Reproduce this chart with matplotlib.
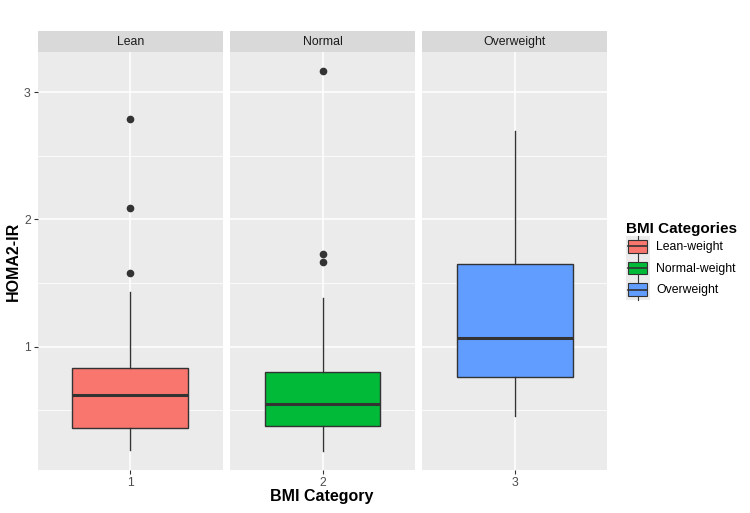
import matplotlib
matplotlib.use("Agg")
import matplotlib.pyplot as plt
from matplotlib.patches import Rectangle
from matplotlib.lines import Line2D
from matplotlib.legend_handler import HandlerBase

plt.rcParams["font.family"] = ["Liberation Sans", "DejaVu Sans"]

# values
panels = ["Lean", "Normal", "Overweight"]
xlabels = ["1", "2", "3"]
legend_labels = ["Lean-weight", "Normal-weight", "Overweight"]
colors = ["#F8766D", "#00BA38", "#619CFF"]

q1 = [0.357, 0.378, 0.764]
med = [0.622, 0.551, 1.071]
q3 = [0.835, 0.803, 1.649]
whis_lo = [0.187, 0.180, 0.457]
whis_hi = [1.433, 1.381, 2.698]
outliers = [[1.58, 2.094, 2.79], [1.665, 1.73, 3.165], []]

edge = "#333333"

all_vals = whis_lo + whis_hi + [v for o in outliers for v in o]
lo, hi = min(all_vals), max(all_vals)
pad = 0.05 * (hi - lo)

fig = plt.figure(figsize=(7.5, 5.13), dpi=100)
W, H = 750, 513
lefts = [37.7, 230, 422.3]
pw = 185
ptop, pbot = 52.3, 470
strip_top = 31

axes = []
for i in range(3):
    ax = fig.add_axes([lefts[i] / W, 1 - pbot / H, pw / W, (pbot - ptop) / H])
    ax.set_facecolor("#EBEBEB")
    for s in ax.spines.values():
        s.set_visible(False)
    ax.set_yticks([0.5, 1.5, 2.5], minor=True)
    ax.set_yticks([1, 2, 3])
    ax.grid(True, which="major", color="white", linewidth=1.1)
    ax.grid(True, which="minor", axis="y", color="white", linewidth=0.55)
    ax.set_axisbelow(True)
    stats = [{"med": med[i], "q1": q1[i], "q3": q3[i],
              "whislo": whis_lo[i], "whishi": whis_hi[i], "fliers": outliers[i]}]
    ax.bxp(stats, positions=[1], widths=0.75, patch_artist=True, showcaps=False,
           boxprops=dict(facecolor=colors[i], edgecolor=edge, linewidth=1.0),
           medianprops=dict(color=edge, linewidth=2.2),
           whiskerprops=dict(color=edge, linewidth=1.0),
           flierprops=dict(marker="o", markerfacecolor=edge, markeredgecolor=edge,
                           markersize=4.5))
    ax.set_xlim(0.4, 1.6)
    ax.set_ylim(lo - pad, hi + pad)
    ax.set_xticks([1])
    ax.set_xticklabels([xlabels[i]])
    ax.tick_params(axis="both", which="major", length=3, color=edge,
                   labelsize=8.8, labelcolor="#4D4D4D", pad=2)
    ax.tick_params(axis="y", which="minor", length=0)
    if i > 0:
        ax.tick_params(axis="y", length=0, labelleft=False)
    # facet strip
    sax = fig.add_axes([lefts[i] / W, 1 - ptop / H, pw / W, (ptop - strip_top) / H])
    sax.set_facecolor("#D9D9D9")
    sax.set_xticks([])
    sax.set_yticks([])
    for s in sax.spines.values():
        s.set_visible(False)
    sax.text(0.5, 0.5, panels[i], ha="center", va="center", fontsize=8.8,
             color="#1A1A1A", transform=sax.transAxes)
    axes.append(ax)

axes[0].set_ylabel("HOMA2-IR", fontsize=11.5, fontweight="bold", labelpad=2)
fig.text(322 / W, 1 - 501.5 / H, "BMI Category", ha="center", va="baseline",
         fontsize=11.5, fontweight="bold")


class BoxKey(HandlerBase):
    def create_artists(self, legend, orig, xd, yd, w, h, fs, trans):
        fc = orig.get_facecolor()
        bg = Rectangle((-xd, -yd), w, h, facecolor="#EBEBEB", edgecolor="none",
                       transform=trans)
        box = Rectangle((-xd + 0.1 * w, -yd + 0.2 * h), 0.8 * w, 0.6 * h,
                        facecolor=fc, edgecolor=edge, linewidth=0.8, transform=trans)
        mid = Line2D([-xd + 0.1 * w, -xd + 0.9 * w], [-yd + 0.5 * h] * 2,
                     color=edge, linewidth=1.2, transform=trans)
        wt = Line2D([-xd + 0.5 * w] * 2, [-yd + 0.8 * h, -yd + h],
                    color=edge, linewidth=0.8, transform=trans)
        wb = Line2D([-xd + 0.5 * w] * 2, [-yd, -yd + 0.2 * h],
                    color=edge, linewidth=0.8, transform=trans)
        return [bg, box, mid, wt, wb]


handles = [Rectangle((0, 0), 1, 1, facecolor=c) for c in colors]
leg = fig.legend(handles, legend_labels, handler_map={Rectangle: BoxKey()},
                 loc="center left", bbox_to_anchor=(626 / W, 1 - 261 / H),
                 frameon=False, fontsize=8.8, title="BMI Categories",
                 title_fontproperties={"weight": "bold", "size": 11},
                 handlelength=1.95, handleheight=2.35, labelspacing=0.0,
                 handletextpad=0.5, borderaxespad=0, borderpad=0)
leg._legend_box.align = "left"

fig.savefig("out.png", dpi=100)
